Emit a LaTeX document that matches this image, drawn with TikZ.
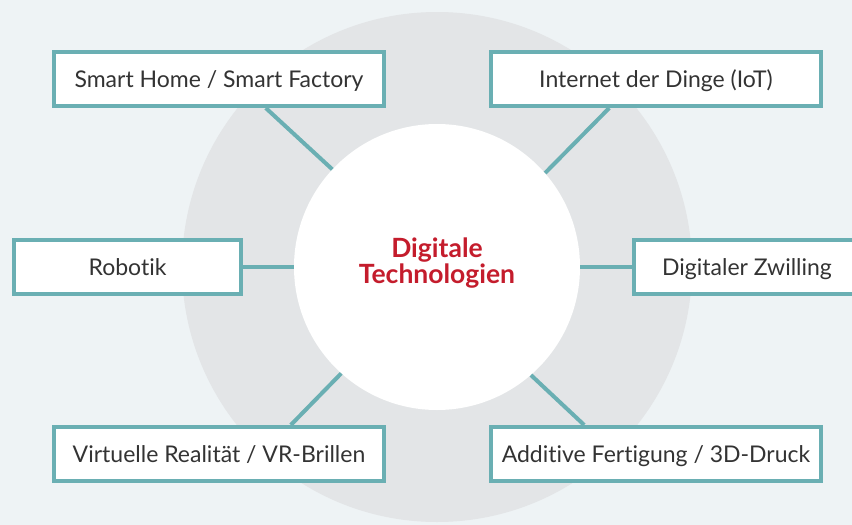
\documentclass[tikz,border=0pt]{standalone}
\usepackage{fontspec}
\setmainfont{Lato}[Ligatures=NoCommon]
\usetikzlibrary{calc}
\definecolor{bgc}{RGB}{238,243,245}
\definecolor{ringc}{RGB}{227,229,231}
\definecolor{tealc}{RGB}{106,175,179}
\definecolor{txtc}{RGB}{51,51,51}
\definecolor{redc}{RGB}{196,28,44}
\begin{document}
\begin{tikzpicture}[x=1pt,y=-1pt,
  techbox/.style={draw=tealc,line width=4pt,fill=white,minimum height=54pt,
    inner sep=0pt,text height=17pt,text depth=0pt,text=txtc,
    font=\fontsize{23}{27}\selectfont},
  conn/.style={draw=tealc,line width=4pt}]
\useasboundingbox (0,0) rectangle (852,525);
\fill[bgc] (0,0) rectangle (852,525);
\fill[ringc] (437,267) circle[radius=255pt];
\node[circle,fill=white,minimum size=286pt,inner sep=0pt] (c) at (437,267) {};
\node[text=redc,align=center,inner sep=0pt,
  font=\fontsize{26.5}{26}\selectfont\bfseries] (ct) at (437,263)
  {Digitale\\Technologien};
\node[techbox,minimum width=330pt] (b1) at (219,79) {Smart Home / Smart Factory};
\node[techbox,minimum width=330pt] (b2) at (656,79) {Internet der Dinge (IoT)};
\node[techbox,minimum width=227pt] (b3) at (127.5,267) {Robotik};
\node[techbox,minimum width=226pt] (b4) at (747,267) {Digitaler Zwilling};
\node[techbox,minimum width=330pt] (b5) at (219,454) {Virtuelle Realität / VR-Brillen};
\node[techbox,minimum width=330pt] (b6) at (656,454) {Additive Fertigung / 3D-Druck};
\draw[conn] (c.137.8) -- ($(b1.south west)!0.64!(b1.south east)$);
\draw[conn] (c.41.9) -- ($(b2.south west)!0.36!(b2.south east)$);
\draw[conn] (c.180) -- (b3.east);
\draw[conn] (c.0) -- (b4.west);
\draw[conn] (c.228.7) -- ($(b5.north west)!0.715!(b5.north east)$);
\draw[conn] (c.311.6) -- ($(b6.north west)!0.285!(b6.north east)$);
\end{tikzpicture}
\end{document}
